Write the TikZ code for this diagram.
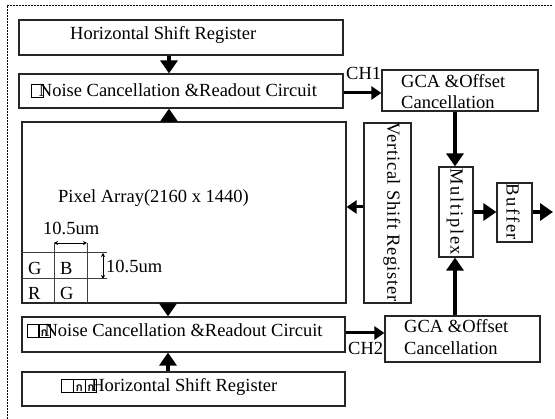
\documentclass[tikz,border=0pt]{standalone}
\usepackage{fontspec}
\setmainfont{Liberation Serif}
\newfontfamily\thaifont[Script=Thai]{Loma}
\usetikzlibrary{arrows.meta,fit}

% empty "missing glyph" frame, optionally holding a glyph
\newcommand\mgbox[1]{{\fboxsep=0pt\fboxrule=1.1pt\fbox{\makebox[10.5pt]{\rule{0pt}{11.5pt}\raisebox{0.3pt}{\fontsize{12}{12}\selectfont\thaifont\bfseries #1}}}}}

\tikzset{
  blk/.style={draw=black!85, line width=1.2pt, inner sep=0pt},
  txt/.style={inner sep=0pt, anchor=base west, font=\fontsize{18.5}{22}\selectfont},
  vtxt/.style={inner sep=0pt, rotate=-90, font=\fontsize{18.5}{22}\selectfont},
  bigarr/.style={line width=4.5pt, -{Triangle[length=13pt,width=17pt]}},
  midarr/.style={line width=3pt, -{Triangle[length=10pt,width=13pt]}},
  dimarr/.style={line width=0.8pt, {Stealth[length=4pt,width=4pt]}-{Stealth[length=4pt,width=4pt]}},
  thin/.style={draw=black!75, line width=1pt},
  frame/.style={line width=0.8pt, dash pattern=on 2pt off 1pt}
}

\begin{document}
\begin{tikzpicture}[x=1pt,y=-1pt]
\useasboundingbox (0,0) rectangle (555,419);

% outer dotted frame (top and left edges)
\coordinate (f0) at (7,5);
\coordinate (f1) at (552,5);
\coordinate (f2) at (7,419);
\draw[frame] (f1) -- (f0) -- (f2);

% blocks
\node[blk, fit={(19,20) (343,55)}] (hsr1) {};
\node[blk, fit={(19,74) (343,108)}] (nc1) {};
\node[blk, fit={(22,122) (346,303)}] (pa) {};
\node[blk, fit={(364,123) (411,303)}] (vsr) {};
\node[blk, fit={(382,70) (538,111)}] (gca1) {};
\node[blk, fit={(439,167) (473,257)}] (mux) {};
\node[blk, fit={(497,183) (532,242)}] (buf) {};
\node[blk, fit={(385,316) (540,362)}] (gca2) {};
\node[blk, fit={(22,317) (345,352)}] (nc2) {};
\node[blk, fit={(22,372) (345,406)}] (hsr2) {};

% block texts
\node[txt] (t1) at (70,40) {Horizontal Shift Register};
\node[txt] (t2) at (31,97) {\mgbox{}\kern-5pt Noise Cancellation \&Readout Circuit};
\node[txt] (t3) at (58,203) {Pixel Array(2160 x 1440)};
\node[txt] (t4) at (27,337) {\mgbox{}\kern-2pt\mgbox{ก}\kern-6pt Noise Cancellation \&Readout Circuit};
\node[txt] (t5) at (61,392) {\mgbox{}\kern-1pt\mgbox{ก}\kern-1pt\mgbox{ก}\kern-6pt Horizontal Shift Register};
\node[txt] (t6) at (401,88) {GCA \&Offset};
\node[txt] (t7) at (401,109) {Cancellation};
\node[txt] (t8) at (404,333) {GCA \&Offset};
\node[txt] (t9) at (404,355) {Cancellation};
\node[txt] (ch1) at (346,80) {CH1};
\node[txt] (ch2) at (348,355) {CH2};
\node[vtxt] (t10) at (392,212) {\addfontfeature{LetterSpace=4}Vertical Shift Register};
\node[vtxt] (t11) at (455,212) {\addfontfeature{LetterSpace=9}Multiplex};
\node[vtxt] (t12) at (513,212) {\addfontfeature{LetterSpace=9}Buffer};

% pixel cells
\draw[thin] (22,253) -- (107,253);
\draw[thin] (22,279) -- (107,279);
\draw[thin] (54,243) -- (54,303);
\draw[thin] (87,243) -- (87,303);
\node[txt] (g1) at (28,275) {G};
\node[txt] (b1) at (60,275) {B};
\node[txt] (r1) at (28,300) {R};
\node[txt] (g2) at (60,300) {G};

% pixel pitch dimensions
\coordinate (d1) at (54,243);
\coordinate (d2) at (87,243);
\coordinate (d3) at (103,253);
\coordinate (d4) at (103,279);
\draw[dimarr] (d1) -- (d2);
\draw[dimarr] (d3) -- (d4);
\node[txt] (w1) at (43,235) {10.5um};
\node[txt] (w2) at (106,273) {10.5um};

% connector guide coordinates
\coordinate (xa) at (169,0);
\coordinate (xb) at (168,0);
\coordinate (xm) at (455,0);
\coordinate (y1) at (0,93);
\coordinate (y2) at (0,333);
\coordinate (yv) at (0,207);
\coordinate (ym) at (0,212);
\coordinate (out) at (553,212);

% connectors
\draw[bigarr] (hsr1.south -| xa) -- (nc1.north -| xa);
\draw[bigarr] (pa.north -| xa) -- (nc1.south -| xa);
\draw[bigarr] (pa.south -| xb) -- (nc2.north -| xb);
\draw[bigarr] (hsr2.north -| xb) -- (nc2.south -| xb);
\draw[midarr] (nc1.east |- y1) -- (gca1.west |- y1);
\draw[midarr] (nc2.east |- y2) -- (gca2.west |- y2);
\draw[midarr] (vsr.west |- yv) -- (pa.east |- yv);
\draw[bigarr] (gca1.south -| xm) -- (mux.north -| xm);
\draw[bigarr] (gca2.north -| xm) -- (mux.south -| xm);
\draw[bigarr] (mux.east |- ym) -- (buf.west |- ym);
\draw[bigarr] (buf.east |- ym) -- (out);
\end{tikzpicture}
\end{document}
